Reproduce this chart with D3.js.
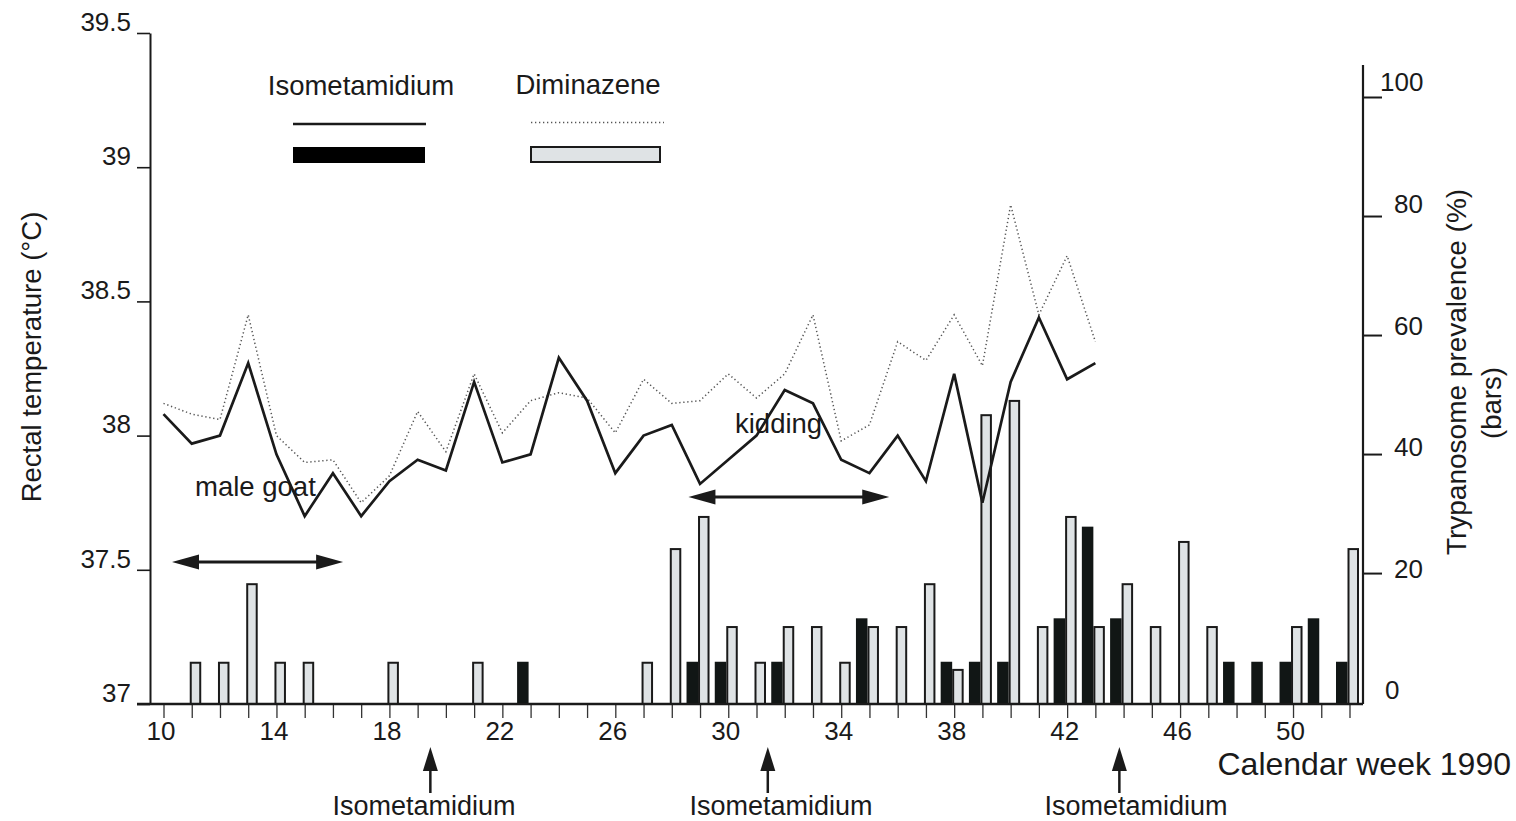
<!DOCTYPE html>
<html>
<head>
<meta charset="utf-8">
<script src="https://cdn.jsdelivr.net/npm/d3@7"></script>
<style>
  html, body { margin: 0; padding: 0; background: #fff; }
  svg text { font-family: "Liberation Sans", Arial, Helvetica, sans-serif; fill: #1a1a1a; }
</style>
</head>
<body>
<svg id="chart" width="1516" height="821"></svg>
<script>
// Calendar weeks of 1990 covered by the study
const weeks = d3.range(10, 53);
const weekLabels = [10, 14, 18, 22, 26, 30, 34, 38, 42, 46, 50];

// Mean rectal temperature (°C), weeks 10-43
const tempWeeks = d3.range(10, 44);
const tempIsometamidium = [38.08, 37.97, 38.00, 38.27, 37.93, 37.70, 37.86, 37.70, 37.83, 37.91,
                           37.87, 38.20, 37.90, 37.93, 38.29, 38.13, 37.86, 38.00, 38.04, 37.82,
                           37.91, 38.00, 38.17, 38.12, 37.91, 37.86, 38.00, 37.83, 38.23, 37.75,
                           38.20, 38.44, 38.21, 38.27];
const tempDiminazene    = [38.12, 38.08, 38.06, 38.45, 38.00, 37.90, 37.91, 37.75, 37.85, 38.09,
                           37.94, 38.23, 38.01, 38.13, 38.16, 38.14, 38.01, 38.21, 38.12, 38.13,
                           38.23, 38.14, 38.23, 38.45, 37.98, 38.04, 38.35, 38.28, 38.45, 38.26,
                           38.86, 38.45, 38.67, 38.35];

// Trypanosome prevalence (%), weeks 10-52 (0 = no positive animal)
const prevIsometamidium = [0, 0, 0, 0, 0, 0, 0, 0, 0, 0,
                           0, 0, 0, 5.1, 0, 0, 0, 0, 0, 5.1,
                           5.1, 0, 5.1, 0, 0, 12.4, 0, 0, 5.1, 5.1,
                           5.1, 0, 12.4, 27.8, 12.4, 0, 0, 0, 5.1, 5.1,
                           5.1, 12.4, 5.1];
const prevDiminazene    = [0, 5.1, 5.1, 18.3, 5.1, 5.1, 0, 0, 5.1, 0,
                           0, 5.1, 0, 0, 0, 0, 0, 5.1, 24.2, 29.6,
                           11.1, 5.1, 11.1, 11.1, 5.1, 11.1, 11.1, 18.3, 3.9, 46.7,
                           49.1, 11.1, 29.6, 11.1, 18.3, 11.1, 25.4, 11.1, 0, 0,
                           11.1, 0, 24.2];

// Axis ticks
const tempTicks = [37, 37.5, 38, 38.5, 39, 39.5];
const prevTicks = [0, 20, 40, 60, 80, 100];

// Events
const treatmentWeeks = [19.45, 31.4, 43.85];
const treatmentLabel = "Isometamidium";
const maleGoatPeriod = [10.3, 16.36];
const kiddingPeriod = [28.59, 35.7];

const groups = ["Isometamidium", "Diminazene"];

// ---------------------------------------------------------------
const svg = d3.select("#chart");
const ink = "#1a1a1a";
const grayFill = "#dfe3e5";

const x = d3.scaleLinear().domain([10, 52]).range([163.5, 1349.5]);
const yT = d3.scaleLinear().domain([37, 39.5]).range([704, 33]);
const yR = d3.scaleLinear().domain([-2, 100]).range([704, 97]);
const yRLabel = d3.scaleLinear().domain([0, 100]).range([690, 82]);
// offset of each treatment's bar inside a week slot
const slot = d3.scaleBand().domain(groups).range([-13.5, 9.5]).paddingInner(0);

const floorY = yR(yR.domain()[0]);

// ---- bars ----
const barData = [];
weeks.forEach((w, i) => {
  if (prevIsometamidium[i] > 0) barData.push({ week: w, group: "Isometamidium", v: prevIsometamidium[i] });
  if (prevDiminazene[i] > 0) barData.push({ week: w, group: "Diminazene", v: prevDiminazene[i] });
});

const bars = svg.append("g").attr("class", "bars");
bars.selectAll("rect.iso")
  .data(barData.filter(d => d.group === "Isometamidium"))
  .join("rect")
  .attr("x", d => x(d.week) + slot(d.group))
  .attr("width", slot.bandwidth())
  .attr("y", d => yR(d.v))
  .attr("height", d => floorY - yR(d.v))
  .attr("fill", "#111615");

bars.selectAll("rect.dim")
  .data(barData.filter(d => d.group === "Diminazene"))
  .join("rect")
  .attr("x", d => x(d.week) + slot(d.group) + 1)
  .attr("width", slot.bandwidth() - 2)
  .attr("y", d => yR(d.v) + 1)
  .attr("height", d => floorY - yR(d.v) - 1)
  .attr("fill", grayFill)
  .attr("stroke", ink)
  .attr("stroke-width", 2);

// ---- temperature lines ----
const line = d3.line().x(d => x(d[0])).y(d => yT(d[1]));

svg.append("path")
  .datum(tempWeeks.map((w, i) => [w, tempDiminazene[i]]))
  .attr("d", line)
  .attr("fill", "none")
  .attr("stroke", "#555")
  .attr("stroke-width", 1.5)
  .attr("stroke-dasharray", "1.3 2.7");

svg.append("path")
  .datum(tempWeeks.map((w, i) => [w, tempIsometamidium[i]]))
  .attr("d", line)
  .attr("fill", "none")
  .attr("stroke", ink)
  .attr("stroke-width", 2.7)
  .attr("stroke-linejoin", "miter");

// ---- axes ----
// left: rectal temperature
const leftAxis = svg.append("g")
  .attr("transform", `translate(150,0)`)
  .call(d3.axisLeft(yT).tickValues(tempTicks).tickSize(13).tickSizeOuter(0).tickPadding(6)
        .tickFormat(d3.format("")));
leftAxis.select(".domain").attr("stroke", ink).attr("stroke-width", 2);
leftAxis.selectAll(".tick line").attr("stroke", ink).attr("stroke-width", 1.6);
leftAxis.selectAll(".tick text").attr("font-size", 26).attr("y", -11)
  .style("font-family", "'Liberation Sans', Arial, sans-serif").attr("fill", ink);

// bottom: calendar week
const bottomAxis = svg.append("g")
  .attr("transform", `translate(0,${yT(37)})`)
  .call(d3.axisBottom(x).tickValues(weeks).tickSize(14).tickSizeOuter(0).tickPadding(4)
        .tickFormat(d => weekLabels.includes(d) ? d : ""));
bottomAxis.select(".domain").remove();
bottomAxis.selectAll(".tick line").attr("stroke", "#333").attr("stroke-width", 1.3);
bottomAxis.selectAll(".tick text").attr("font-size", 26).attr("dx", -3)
  .style("font-family", "'Liberation Sans', Arial, sans-serif").attr("fill", ink);
svg.append("line")
  .attr("x1", 137).attr("x2", 1363)
  .attr("y1", yT(37)).attr("y2", yT(37))
  .attr("stroke", ink).attr("stroke-width", 2.4);

// right: trypanosome prevalence
const rightAxis = svg.append("g")
  .attr("transform", `translate(1363,0)`)
  .call(d3.axisRight(yR).tickValues(prevTicks.filter(d => d > 0)).tickSize(19).tickSizeOuter(0)
        .tickFormat(""));
rightAxis.select(".domain").remove();
rightAxis.selectAll(".tick line").attr("stroke", ink).attr("stroke-width", 2);
svg.append("line")
  .attr("x1", 1363).attr("x2", 1363)
  .attr("y1", 65).attr("y2", floorY)
  .attr("stroke", ink).attr("stroke-width", 2.2);
svg.append("g").selectAll("text")
  .data(prevTicks)
  .join("text")
  .attr("x", d => d === 100 ? 1380 : (d === 0 ? 1385 : 1394))
  .attr("y", d => yRLabel(d))
  .attr("dy", "0.36em")
  .attr("font-size", 26)
  .text(d => d);

// axis titles
svg.append("text")
  .attr("transform", "translate(41,357) rotate(-90)")
  .attr("text-anchor", "middle")
  .attr("font-size", 27.5)
  .text("Rectal temperature (°C)");
svg.append("text")
  .attr("transform", "translate(1466,372) rotate(-90)")
  .attr("text-anchor", "middle")
  .attr("font-size", 28)
  .text("Trypanosome prevalence (%)");
svg.append("text")
  .attr("transform", "translate(1501,403) rotate(-90)")
  .attr("text-anchor", "middle")
  .attr("font-size", 27.5)
  .text("(bars)");
svg.append("text")
  .attr("x", 1511).attr("y", 775)
  .attr("text-anchor", "end")
  .attr("font-size", 32)
  .text("Calendar week 1990");

// ---- legend ----
const legend = svg.append("g");
legend.append("text").attr("x", 361).attr("y", 95).attr("text-anchor", "middle")
  .attr("font-size", 27.5).text(groups[0]);
legend.append("text").attr("x", 588).attr("y", 94).attr("text-anchor", "middle")
  .attr("font-size", 27.5).text(groups[1]);
legend.append("line").attr("x1", 293).attr("x2", 426).attr("y1", 124).attr("y2", 124)
  .attr("stroke", ink).attr("stroke-width", 2.6);
legend.append("rect").attr("x", 293).attr("y", 147).attr("width", 132).attr("height", 16)
  .attr("fill", "#000");
legend.append("line").attr("x1", 531).attr("x2", 664).attr("y1", 122.5).attr("y2", 122.5)
  .attr("stroke", "#555").attr("stroke-width", 1.6).attr("stroke-dasharray", "1.3 2.7");
legend.append("rect").attr("x", 531).attr("y", 147).attr("width", 129).attr("height", 15)
  .attr("fill", grayFill).attr("stroke", ink).attr("stroke-width", 2);

// ---- period annotations (double-headed arrows) ----
function doubleArrow(period, yPos) {
  const x0 = x(period[0]), x1 = x(period[1]);
  const head = 27, half = 7.5;
  const g = svg.append("g");
  g.append("line").attr("x1", x0 + head - 2).attr("x2", x1 - head + 2)
    .attr("y1", yPos).attr("y2", yPos).attr("stroke", ink).attr("stroke-width", 3);
  g.append("path")
    .attr("d", `M${x0},${yPos} L${x0 + head},${yPos - half} L${x0 + head},${yPos + half} Z`)
    .attr("fill", ink);
  g.append("path")
    .attr("d", `M${x1},${yPos} L${x1 - head},${yPos - half} L${x1 - head},${yPos + half} Z`)
    .attr("fill", ink);
}
doubleArrow(maleGoatPeriod, 562);
doubleArrow(kiddingPeriod, 497);

svg.append("text").attr("x", 195).attr("y", 496).attr("font-size", 27.5).text("male goat");
svg.append("text").attr("x", 735).attr("y", 433).attr("font-size", 27.5).text("kidding");

// ---- treatment arrows below the axis ----
const labelX = [424, 781, 1136];
treatmentWeeks.forEach((w, i) => {
  const cx = x(w);
  svg.append("path")
    .attr("d", `M${cx},747 L${cx + 7.5},771 L${cx - 7.5},771 Z`)
    .attr("fill", ink);
  svg.append("line").attr("x1", cx).attr("x2", cx).attr("y1", 768).attr("y2", 793)
    .attr("stroke", ink).attr("stroke-width", 2.5);
  svg.append("text").attr("x", labelX[i]).attr("y", 815).attr("text-anchor", "middle")
    .attr("font-size", 27).text(treatmentLabel);
});
</script>
</body>
</html>
